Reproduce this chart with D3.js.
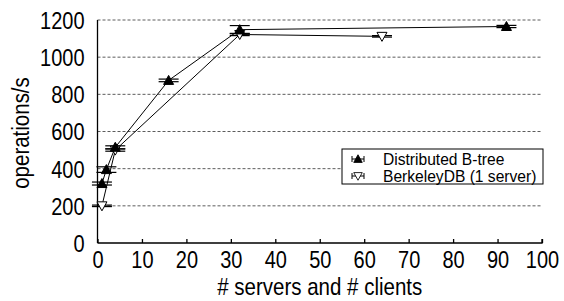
<!DOCTYPE html>
<html>
<head>
<meta charset="utf-8">
<script src="https://cdn.jsdelivr.net/npm/d3@7"></script>
<style>
  body { margin: 0; background: #fff; }
  text { font-family: "Liberation Sans", Arial, Helvetica, sans-serif; fill: #000; }
  .grid line { stroke: #000; stroke-width: 0.8; stroke-dasharray: 3,2; opacity: 0.8; }
  .axis path, .axis line { stroke: #000; stroke-width: 1.3; }
</style>
</head>
<body>
<svg class="chart"></svg>
<script>
// Distributed B-tree
var btreeX = [1, 2, 4, 16, 32, 92];
var btreeY = [320, 395, 515, 875, 1148, 1165];
var btreeErr = [8, 15, 8, 7, 22, 6];

// BerkeleyDB (1 server)
var bdbX = [1, 4, 32, 64];
var bdbY = [200, 500, 1122, 1112];
var bdbErr = [4, 6, 6, 4];

var xTicks = [0, 10, 20, 30, 40, 50, 60, 70, 80, 90, 100];
var yTicks = [0, 200, 400, 600, 800, 1000, 1200];

var stretch = 1.17; // the original text is a little taller than Arial

var margin = { top: 20, right: 22, bottom: 58, left: 97.5 },
  width = 564 - margin.left - margin.right,
  height = 301 - margin.top - margin.bottom;

var x = d3.scaleLinear().domain([0, 100]).range([0, width]);
var y = d3.scaleLinear().domain([0, 1200]).range([height, 0]);

var svg = d3.select(".chart")
  .attr("width", 564)
  .attr("height", 301)
  .append("g")
  .attr("transform", "translate(" + margin.left + "," + margin.top + ")");

// dashed grid
svg.append("g")
  .attr("class", "grid")
  .selectAll("line")
  .data(yTicks.slice(1))
  .enter().append("line")
  .attr("x1", 0).attr("x2", width)
  .attr("y1", function(d) { return y(d); })
  .attr("y2", function(d) { return y(d); });

var xAxis = d3.axisBottom(x).tickValues(xTicks).tickFormat(d3.format("d")).tickSize(-4);
var yAxis = d3.axisLeft(y).tickValues(yTicks).tickFormat(d3.format("d")).tickSize(0).tickPadding(13);

var gx = svg.append("g")
  .attr("class", "x axis")
  .attr("transform", "translate(0," + height + ")")
  .call(xAxis);
gx.select(".domain").attr("d", "M0,0H" + width + "V-4");
gx.selectAll("text")
  .style("font-size", "20px")
  .attr("y", 25 / stretch)
  .attr("dy", 0)
  .attr("transform", "scale(1," + stretch + ")");

var gy = svg.append("g")
  .attr("class", "y axis")
  .call(yAxis);
gy.select(".domain").attr("d", "M0,0V" + height);
gy.selectAll("text")
  .style("font-size", "20px")
  .attr("dy", "0.36em")
  .attr("transform", "scale(1," + stretch + ")");

svg.append("text")
  .attr("transform", "translate(" + (width / 2) + "," + (295 - margin.top) + ") scale(1," + stretch + ")")
  .attr("text-anchor", "middle")
  .style("font-size", "20.5px")
  .text("# servers and # clients");

svg.append("text")
  .attr("transform", "translate(" + (29 - margin.left) + "," + (133 - margin.top) + ") rotate(-90) scale(1," + stretch + ")")
  .attr("text-anchor", "middle")
  .style("font-size", "20.5px")
  .text("operations/s");

var line = d3.line()
  .x(function(d) { return x(d.x); })
  .y(function(d) { return y(d.y); });

function series(xs, ys, errs) {
  return xs.map(function(v, i) { return { x: v, y: ys[i], e: errs[i] }; });
}
var btree = series(btreeX, btreeY, btreeErr);
var bdb = series(bdbX, bdbY, bdbErr);

var up = "M0,-5L5,4L-5,4Z";
var down = "M0,5L5,-4L-5,-4Z";

function drawSeries(data, sym, fill) {
  var g = svg.append("g");
  g.append("path")
    .datum(data)
    .attr("fill", "none")
    .attr("stroke", "#000")
    .attr("stroke-width", 1)
    .attr("d", line);
  var eb = g.selectAll(".err")
    .data(data)
    .enter().append("g")
    .attr("stroke", "#000")
    .attr("stroke-width", 1.2);
  eb.append("line")
    .attr("x1", function(d) { return x(d.x); })
    .attr("x2", function(d) { return x(d.x); })
    .attr("y1", function(d) { return y(d.y - d.e); })
    .attr("y2", function(d) { return y(d.y + d.e); });
  [-1, 1].forEach(function(s) {
    eb.append("line")
      .attr("x1", function(d) { return x(d.x) - 10; })
      .attr("x2", function(d) { return x(d.x) + 10; })
      .attr("y1", function(d) { return y(d.y + s * d.e); })
      .attr("y2", function(d) { return y(d.y + s * d.e); });
  });
  g.selectAll(".pt")
    .data(data)
    .enter().append("path")
    .attr("d", sym)
    .attr("transform", function(d) { return "translate(" + x(d.x) + "," + y(d.y) + ")"; })
    .attr("fill", fill)
    .attr("stroke", "#000")
    .attr("stroke-width", 1);
}

drawSeries(bdb, down, "#fff");
drawSeries(btree, up, "#000");

// legend
var lg = svg.append("g").attr("transform", "translate(" + (342 - margin.left) + "," + (149 - margin.top) + ")");
lg.append("rect")
  .attr("width", 201).attr("height", 35)
  .attr("fill", "#fff").attr("stroke", "#000").attr("stroke-width", 1);
var items = [
  { name: "Distributed B-tree", sym: up, fill: "#000" },
  { name: "BerkeleyDB (1 server)", sym: down, fill: "#fff" }
];
items.forEach(function(it, i) {
  var cy = 10 + i * 17;
  var sx = 16;
  lg.append("path").attr("d", "M" + (sx - 6) + "," + cy + "H" + (sx + 6) +
      "M" + (sx - 6) + "," + (cy - 3) + "V" + (cy + 3) +
      "M" + (sx + 6) + "," + (cy - 3) + "V" + (cy + 3))
    .attr("stroke", "#000").attr("stroke-width", 1);
  lg.append("path").attr("d", it.sym)
    .attr("transform", "translate(" + sx + "," + cy + ") scale(0.85)")
    .attr("fill", it.fill).attr("stroke", "#000");
  lg.append("text")
    .attr("x", 41).attr("y", cy + 5.5)
    .style("font-size", "15.6px")
    .text(it.name);
});
</script>
</body>
</html>
